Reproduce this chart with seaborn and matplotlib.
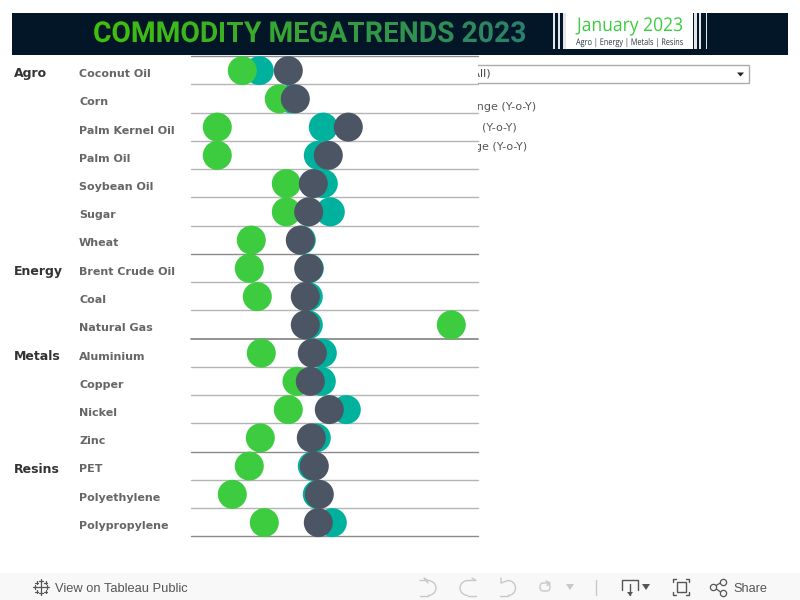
import numpy as np
import pandas as pd
import matplotlib
matplotlib.use("Agg")
import matplotlib.pyplot as plt
from matplotlib.font_manager import FontProperties
from matplotlib.patches import Arc, FancyBboxPatch, Polygon, Rectangle
from matplotlib.patheffects import AbstractPathEffect
from matplotlib.textpath import TextPath
from matplotlib.transforms import Affine2D
import seaborn as sns

groups = ["Agro", "", "", "", "", "", "", "Energy", "", "", "Metals", "", "", "", "Resins", "", ""]
commodities = ["Coconut Oil", "Corn", "Palm Kernel Oil", "Palm Oil", "Soybean Oil", "Sugar", "Wheat",
               "Brent Crude Oil", "Coal", "Natural Gas", "Aluminium", "Copper", "Nickel", "Zinc",
               "PET", "Polyethylene", "Polypropylene"]
# position along the (unlabelled) x axis
green_vals = [51.3, 88.3, 26.3, 26.3, 95.3, 95.3, 60.3, 58.3, 66.3, 260.3, 70.3, 106, 97.3, 69.3, 58.3, 41.3, 73.3]
teal_vals = [68.3, 100, 132.3, 127.3, 132.3, 139.3, 110.3, 118.3, 117.3, 117.3, 131.3, 130.3, 155.3, 125.3, 121.3, 126.3, 141.3]
dark_vals = [97.3, 104.3, 157.3, 137.3, 122.3, 117.7, 109.3, 117.7, 114.3, 114.3, 121.3, 119.3, 138.3, 120.3, 123.3, 128.3, 127.3]
legend_bits = ["Change (Y-o-Y)", "(Y-o-Y)", "Change (Y-o-Y)"]
title_text = "COMMODITY MEGATRENDS 2023"


class StretchY(AbstractPathEffect):
    # matplotlib can't do condensed fonts, so pull the glyphs taller about the baseline
    def __init__(self, sy, y0):
        super().__init__()
        self.sy = sy
        self.y0 = y0

    def draw_path(self, renderer, gc, tpath, affine, rgbFace=None):
        aff = affine + Affine2D().translate(0, -self.y0).scale(1, self.sy).translate(0, self.y0)
        renderer.draw_path(gc, tpath, aff, rgbFace)


def text_width(s, size, family, weight):
    t = page.text(0, 0, s, fontsize=size, family=family, fontweight=weight)
    w = t.get_window_extent(rend).width
    t.remove()
    return w


def fit_sizes(s, width, cap_px, family, weight):
    size = 20 * width / text_width(s, 20, family, weight)
    fp = FontProperties(family=family, weight=weight)
    cap = TextPath((0, 0), "H", size=size * 100 / 72, prop=fp).get_extents().height
    return size, cap_px / cap


def fitted_text(s, x, baseline, width, cap_px, color, family, weight="normal"):
    size, sy = fit_sizes(s, width, cap_px, family, weight)
    page.text(x, baseline, s, fontsize=size, family=family, fontweight=weight, color=color, va="baseline",
              path_effects=[StretchY(sy, 600 - baseline)])


sns.set_theme(style="white")
plt.rcParams["font.family"] = ["DejaVu Sans"]

df = pd.DataFrame({"commodity": commodities, "Teal": teal_vals, "Green": green_vals, "Dark": dark_vals})
df["row"] = range(len(df))
long_df = df.melt(id_vars=["commodity", "row"], var_name="series", value_name="value")

fig = plt.figure(figsize=(8, 6), dpi=100)
fig.patch.set_facecolor("white")
rend = fig.canvas.get_renderer()

# page level things in pixel coords
page = fig.add_axes([0, 0, 1, 1])
page.set_xlim(0, 800)
page.set_ylim(600, 0)
page.axis("off")

page.add_patch(Rectangle((12, 13), 776, 42, color="#021627", lw=0))
page.add_patch(Rectangle((0, 573), 800, 27, color="#f8f8f8", lw=0))

# dropdown + legend sit behind the chart and get cut off by it
page.add_patch(Rectangle((440, 64.5), 309, 18.5, fc="white", ec="#aaaaaa", lw=1))
page.text(491, 73, "(All)", fontsize=8, color="#444444", va="center", ha="right")
page.add_patch(Polygon([[737, 72.5], [744, 72.5], [740.5, 76.5]], color="#222222", lw=0))
page.text(536, 107, legend_bits[0], fontsize=8, color="#555555", va="center", ha="right")
page.text(516.5, 127, legend_bits[1], fontsize=8, color="#555555", va="center", ha="right")
page.text(527, 147, legend_bits[2], fontsize=8, color="#555555", va="center", ha="right")

# title, colour fades across the letters
start = np.array([0.25, 0.75, 0.05])
end = np.array([0.17, 0.50, 0.42])
t_size, t_sy = fit_sizes(title_text, 433, 20.5, "Roboto", "bold")
bar_w = text_width("|", t_size, "Roboto", "bold")
for i, ch in enumerate(title_text):
    c = start + (end - start) * i / (len(title_text) - 1)
    x_pos = 93 + text_width(title_text[:i] + "|", t_size, "Roboto", "bold") - bar_w
    page.text(x_pos, 42, ch, color=c, fontsize=t_size, fontweight="bold", family="Roboto", va="baseline",
              path_effects=[StretchY(t_sy, 558)])

# January box
page.add_patch(Rectangle((566, 13), 127, 36, color="white", lw=0))
for x0, w in [(553, 1.5), (558, 1.5), (563, 3), (694, 2.5), (699, 1.5), (705.5, 1.5)]:
    page.add_patch(Rectangle((x0, 13), w, 36, color="#e4e6e8", lw=0))
fitted_text("January 2023", 577, 31, 106, 13.5, "#3dcc3f", "Open Sans")
fitted_text("Agro | Energy | Metals | Resins", 576, 45, 107, 6.5, "#2b3640", "Open Sans")

# toolbar
page.text(55, 587, "View on Tableau Public", fontsize=9.3, color="#555555", family="Liberation Sans", va="center_baseline")
page.text(733, 587, "Share", fontsize=9.2, color="#555555", family="Liberation Sans", va="center_baseline")
for px, py, r in [(41, 587, 4), (41, 581, 2), (41, 593, 2), (35, 587, 2), (47, 587, 2),
                  (36.5, 582.5, 1.5), (45.5, 582.5, 1.5), (36.5, 591.5, 1.5), (45.5, 591.5, 1.5)]:
    page.plot([px - r, px + r], [py, py], color="#555555", lw=0.9)
    page.plot([px, px], [py - r, py + r], color="#555555", lw=0.9)
off = "#c8c8c8"
on = "#555555"
page.add_patch(Arc((428, 588), 16, 15, theta1=-90, theta2=90, color=off, lw=1))
page.plot([420, 428], [595.5, 595.5], color=off, lw=1)
page.plot([420, 428, 424, 428], [580.5, 580.5, 578, 583], color=off, lw=1)
page.add_patch(Arc((468, 588), 16, 15, theta1=90, theta2=270, color=off, lw=1))
page.plot([468, 476], [595.5, 595.5], color=off, lw=1)
page.plot([468, 476, 472], [580.5, 580.5, 578], color=off, lw=1)
page.add_patch(Arc((508, 588), 15, 15, theta1=-90, theta2=90, color=off, lw=1))
page.plot([501, 501, 508], [578, 583, 580.5], color=off, lw=1)
page.plot([500, 508], [595.5, 595.5], color=off, lw=1)
page.add_patch(FancyBboxPatch((540, 583), 10, 8, boxstyle="round,pad=0,rounding_size=3.5", fc="none", ec=off, lw=1))
page.plot([546, 550, 547], [581, 583, 585.5], color=off, lw=1)
page.add_patch(Polygon([[566, 584], [574, 584], [570, 590]], color=off, lw=0))
page.plot([596, 596], [580, 595], color=off, lw=1)
page.plot([622, 622, 638, 638], [590, 580, 580, 590], color=on, lw=1)
page.plot([630, 630], [584, 595], color=on, lw=1)
page.add_patch(Polygon([[627, 592], [633, 592], [630, 596]], color=on, lw=0))
page.add_patch(Polygon([[642, 584], [650, 584], [646, 590]], color=on, lw=0))
page.add_patch(Rectangle((677, 582), 9, 10, fc="none", ec=on, lw=1))
for cx, cy, dx, dy in [(673, 579, 1, 1), (689, 579, -1, 1), (673, 595, 1, -1), (689, 595, -1, -1)]:
    page.plot([cx + 3 * dx, cx, cx], [cy, cy, cy + 3 * dy], color=on, lw=1)
page.plot([722, 713.5, 722], [582, 587, 593], color=on, lw=0.9)
for px, py in [(723, 581.5), (713, 587), (723, 593)]:
    page.plot(px, py, "o", ms=4.5, mfc="#f8f8f8", mec=on, mew=0.9)

# row labels
for i, (g, c) in enumerate(zip(groups, commodities)):
    y = 73 + i * 28.25
    if g:
        page.text(14, y - 0.6, g, fontsize=9, fontweight="bold", color="#333333", va="center_baseline")
    page.text(79, y, c, fontsize=8, fontweight="bold", color="#666666", va="center_baseline")

# chart
ax = fig.add_axes([191 / 800, 1 - 537.3 / 600, 287 / 800, 481.3 / 600])
ax.set_facecolor("white")
sns.scatterplot(data=long_df, x="value", y="row", hue="series", hue_order=["Teal", "Green", "Dark"],
                palette={"Teal": "#00b29d", "Green": "#3dcc3f", "Dark": "#4b5563"},
                s=436, linewidth=0, alpha=1, legend=False, ax=ax, clip_on=False, zorder=3)
ax.set_xlim(0, 287)
ax.set_ylim(16.52, -0.517)
ax.set_xlabel("")
ax.set_ylabel("")
ax.set_xticks([])
ax.set_yticks([])
for s in ax.spines.values():
    s.set_visible(False)
for i in range(len(df) + 1):
    strong = i in (0, 7, 10, 14, 17)
    ax.axhline(min(max(i - 0.51, -0.517), 16.52), color="#8a8a8a" if strong else "#b4b4b4",
               lw=1.3 if i == 10 else 1, zorder=1, clip_on=False)

fig.savefig("out.png", dpi=100)
